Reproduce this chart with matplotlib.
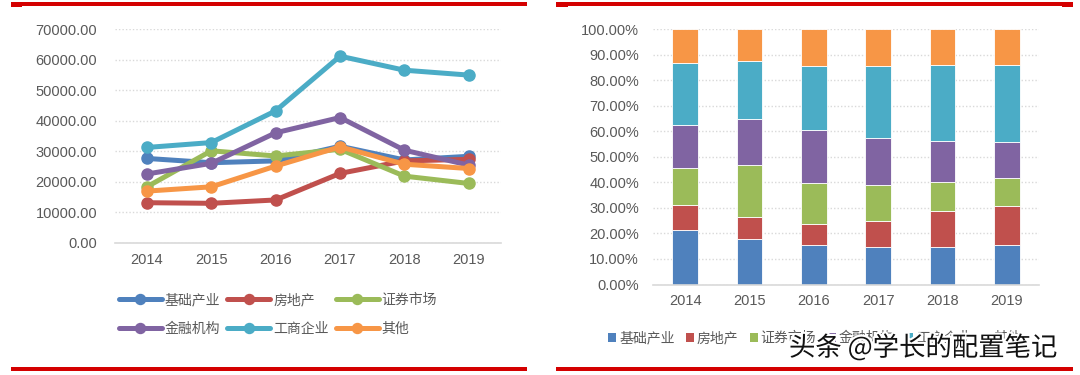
import matplotlib
matplotlib.use('Agg')
import matplotlib.pyplot as plt
import matplotlib.patheffects as pe
from matplotlib.patches import Patch, Rectangle
import numpy as np

plt.rcParams['font.family'] = ['Liberation Sans', 'Noto Sans CJK SC', 'DejaVu Sans']

# dados
anos = ['2014', '2015', '2016', '2017', '2018', '2019']
nomes = ['基础产业', '房地产', '证券市场', '金融机构', '工商企业', '其他']
cores = ['#4F81BD', '#C0504D', '#9BBB59', '#8064A2', '#4BACC6', '#F79646']

# valores absolutos (grafico de linhas)
jichu = [27700, 26300, 26900, 31700, 27200, 28400]
fangdichan = [13200, 13000, 14100, 22800, 26900, 27400]
zhengquan = [18400, 30200, 28500, 30700, 21900, 19500]
jinrong = [22600, 26100, 36100, 41100, 30400, 25500]
gongshang = [31300, 32900, 43300, 61200, 56600, 55000]
qita = [17000, 18400, 25200, 31500, 25800, 24400]

# participacao em % (grafico de barras empilhadas)
jichu_pct = [21.3, 17.9, 15.4, 14.5, 14.6, 15.5]
fangdichan_pct = [9.9, 8.7, 8.3, 10.4, 14.2, 15.1]
zhengquan_pct = [14.3, 20.3, 16.2, 14.2, 11.5, 11.1]
jinrong_pct = [17.1, 18.0, 20.7, 18.5, 16.0, 14.0]
gongshang_pct = [24.1, 22.5, 24.9, 27.9, 29.9, 30.5]
qita_pct = [13.3, 12.6, 14.5, 14.5, 13.8, 13.8]

series = [jichu, fangdichan, zhengquan, jinrong, gongshang, qita]
series_pct = [jichu_pct, fangdichan_pct, zhengquan_pct, jinrong_pct, gongshang_pct, qita_pct]

W, H = 1080, 375
cinza = '#595959'
grade = '#D9D9D9'
cjk = ['Noto Sans CJK SC', 'DejaVu Sans']

fig = plt.figure(figsize=(W / 100, H / 100), dpi=100)

def eixo(px0, py0, px1, py1):
    # caixa do eixo em pixels (y de cima para baixo)
    return fig.add_axes([px0 / W, (H - py1) / H, (px1 - px0) / W, (py1 - py0) / H])

def estilo(ax, pad_y):
    for s in ['top', 'right', 'left']:
        ax.spines[s].set_visible(False)
    ax.spines['bottom'].set_color(grade)
    ax.spines['bottom'].set_linewidth(1.2)
    ax.yaxis.grid(True, linestyle=(0, (1, 1.5)), color=grade, linewidth=1)
    ax.set_axisbelow(True)
    ax.tick_params(axis='both', length=0, labelsize=10.5, colors=cinza)
    ax.tick_params(axis='y', pad=pad_y)
    ax.tick_params(axis='x', pad=7)

# ---------------- grafico de linhas ----------------
ax1 = eixo(114.7, 29.3, 501, 243)
x = np.arange(len(anos))
handles = []
for vals, nome, cor in zip(series, nomes, cores):
    h, = ax1.plot(x, vals, color=cor, linewidth=3.6, marker='o', markersize=8,
                  solid_capstyle='round', label=nome)
    handles.append(h)
ax1.set_xlim(-0.5, len(anos) - 0.5)
ax1.set_ylim(0, 70000)
ax1.set_yticks(np.arange(0, 70001, 10000))
ax1.set_yticklabels([f'{v:.2f}' for v in np.arange(0, 70001, 10000)])
ax1.set_xticks(x)
ax1.set_xticklabels(anos)
estilo(ax1, 12.5)

# legenda por linhas (matplotlib preenche por coluna)
ordem = [0, 3, 1, 4, 2, 5]
leg1 = fig.legend([handles[i] for i in ordem], [nomes[i] for i in ordem],
                  loc='upper left', bbox_to_anchor=(112 / W, 1 - 286 / H), ncol=3,
                  frameon=False, borderpad=0, handlelength=3.1, handletextpad=0.2,
                  columnspacing=0.5, labelspacing=1.1, markerscale=0.9,
                  prop={'family': cjk, 'size': 10})
for t in leg1.get_texts():
    t.set_color(cinza)

# ---------------- barras empilhadas ----------------
ax2 = eixo(653, 29.3, 1039, 284.5)
base = np.zeros(len(anos))
for vals, nome, cor in zip(series_pct, nomes, cores):
    ax2.bar(x, vals, width=0.4, bottom=base, color=cor, edgecolor='white',
            linewidth=0.6, label=nome)
    base += np.array(vals)
ax2.set_xlim(-0.5, len(anos) - 0.5)
ax2.set_ylim(0, 100)
ax2.set_yticks(np.arange(0, 101, 10))
ax2.set_yticklabels([f'{v:.2f}%' for v in np.arange(0, 101, 10)])
ax2.set_xticks(x)
ax2.set_xticklabels(anos)
estilo(ax2, 10)

quadrados = [Patch(facecolor=c, edgecolor='none') for c in cores]
leg2 = fig.legend(quadrados, nomes, loc='center left',
                  bbox_to_anchor=(601 / W, 1 - 338 / H), ncol=6, frameon=False,
                  borderpad=0, handlelength=0.6, handleheight=0.6,
                  handletextpad=0.2, columnspacing=0.8,
                  prop={'family': cjk, 'size': 10})
for t in leg2.get_texts():
    t.set_color(cinza)

# ---------------- linhas vermelhas ----------------
vermelho = '#D40000'
for x0, x1 in [(11, 527), (556, 1073)]:
    fig.add_artist(Rectangle((x0 / W, 1 - 5.5 / H), (x1 - x0) / W, 3 / H,
                             transform=fig.transFigure, color=vermelho, lw=0))
    fig.add_artist(Rectangle((x0 / W, 1 - 370.8 / H), (x1 - x0) / W, 3.5 / H,
                             transform=fig.transFigure, color=vermelho, lw=0))
for x0, x1 in [(11, 22), (556, 568), (1062, 1073)]:
    fig.add_artist(Rectangle((x0 / W, 1 - 7 / H), (x1 - x0) / W, 4.5 / H,
                             transform=fig.transFigure, color=vermelho, lw=0))

# marca d'agua
fig.text(789 / W, 1 - 348 / H, '头条 @学长的配置笔记', ha='left', va='center',
         fontsize=19, family=cjk, color='#111111', zorder=10,
         path_effects=[pe.withStroke(linewidth=3, foreground='white')])

fig.savefig('out.png', dpi=100)
